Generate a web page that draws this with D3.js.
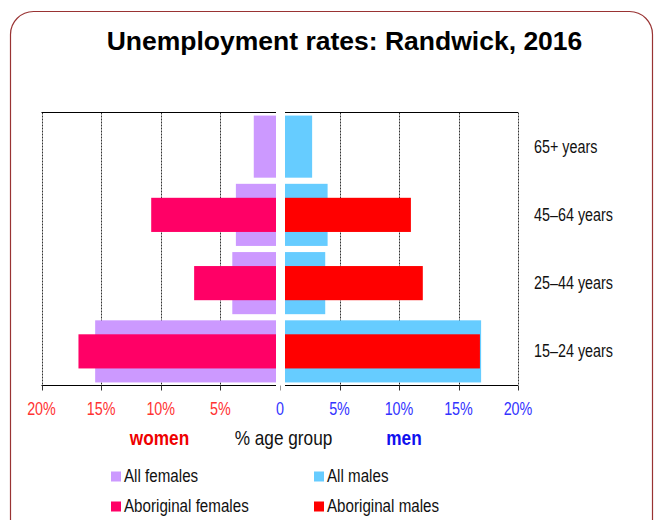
<!DOCTYPE html>
<html>
<head>
<meta charset="utf-8">
<script src="https://cdn.jsdelivr.net/npm/d3@7"></script>
<style>
  body { margin: 0; background: #fff; }
  text { font-family: "Liberation Sans", Arial, sans-serif; }
  .title { font-weight: bold; }
</style>
</head>
<body>
<svg id="chart" width="660" height="520"></svg>
<script>
// ---- data ----
var ageGroups = ["65+ years", "45\u201364 years", "25\u201344 years", "15\u201324 years"];
var allFemales = [2.2, 3.7, 4.0, 15.5];
var aboFemales = [null, 10.8, 7.2, 16.9];
var allMales = [2.7, 4.0, 3.8, 16.9];
var aboMales = [null, 11.0, 12.0, 16.8];
var tickVals = [0, 5, 10, 15, 20];
var legendItems = [
  {label: "All females", color: "#cc99ff"},
  {label: "All males", color: "#66ccff"},
  {label: "Aboriginal females", color: "#ff0066"},
  {label: "Aboriginal males", color: "#ff0000"}
];

var svg = d3.select("#chart");
var narrow = 0.82; // the original text is a narrow face

// narrow text, squeezed horizontally
function ntext(x, y, size) {
  return svg.append("text")
    .attr("transform", "translate(" + x + "," + y + ") scale(" + narrow + ",1)")
    .style("font-size", size + "px");
}

// frame
svg.append("rect")
  .attr("x", 10.5).attr("y", 11.5)
  .attr("width", 642).attr("height", 560)
  .attr("rx", 23)
  .attr("fill", "none")
  .attr("stroke", "#993333")
  .attr("stroke-width", 1.2);

svg.append("text")
  .attr("class", "title")
  .attr("x", 344.5).attr("y", 50)
  .attr("text-anchor", "middle")
  .style("font-size", "26.5px")
  .text("Unemployment rates: Randwick, 2016");

// scales
var xL = d3.scaleLinear().domain([0, 20]).range([280, 41.5]);
var xR = d3.scaleLinear().domain([0, 20]).range([280, 518]);
var gapL = 4, gapR = 5;
var plotTop = 112.5, plotBottom = 385.5;

var y = d3.scaleBand()
  .domain(ageGroups)
  .range([plotTop, plotBottom])
  .paddingInner(0.09)
  .paddingOuter(0.045);

var innerH = y.bandwidth() * 0.55;

// gridlines
var grid = svg.append("g");
tickVals.filter(function(d) { return d > 0; }).forEach(function(v) {
  [xL(v), xR(v)].forEach(function(px) {
    grid.append("line")
      .attr("x1", Math.round(px) + 0.5).attr("x2", Math.round(px) + 0.5)
      .attr("y1", plotTop).attr("y2", plotBottom)
      .attr("stroke", "#333")
      .attr("stroke-dasharray", "2,1");
  });
});

// top/bottom lines
[plotTop, plotBottom].forEach(function(yy) {
  svg.append("line")
    .attr("x1", xL(20)).attr("x2", xL(0) - gapL)
    .attr("y1", yy).attr("y2", yy)
    .attr("stroke", "#000");
  svg.append("line")
    .attr("x1", xR(0) + gapR).attr("x2", xR(20))
    .attr("y1", yy).attr("y2", yy)
    .attr("stroke", "#000");
});

// ticks
tickVals.forEach(function(v) {
  var xs = v == 0 ? [xL(0)] : [xL(v), xR(v)];
  xs.forEach(function(px) {
    svg.append("line")
      .attr("x1", Math.round(px) + 0.5).attr("x2", Math.round(px) + 0.5)
      .attr("y1", plotBottom).attr("y2", plotBottom + 5)
      .attr("stroke", v == 0 ? "#999" : "#333");
  });
});

// bars
var bars = svg.append("g");
ageGroups.forEach(function(g, i) {
  bars.append("rect")
    .attr("x", xL(allFemales[i])).attr("y", y(g))
    .attr("width", xL(0) - gapL - xL(allFemales[i]))
    .attr("height", y.bandwidth())
    .attr("fill", "#cc99ff");
  bars.append("rect")
    .attr("x", xR(0) + gapR).attr("y", y(g))
    .attr("width", xR(allMales[i]) - xR(0) - gapR)
    .attr("height", y.bandwidth())
    .attr("fill", "#66ccff");
  if (aboFemales[i] != null) {
    bars.append("rect")
      .attr("x", xL(aboFemales[i])).attr("y", y(g) + (y.bandwidth() - innerH) / 2)
      .attr("width", xL(0) - gapL - xL(aboFemales[i]))
      .attr("height", innerH)
      .attr("fill", "#ff0066");
  }
  if (aboMales[i] != null) {
    bars.append("rect")
      .attr("x", xR(0) + gapR).attr("y", y(g) + (y.bandwidth() - innerH) / 2)
      .attr("width", xR(aboMales[i]) - xR(0) - gapR)
      .attr("height", innerH)
      .attr("fill", "#ff0000");
  }
});

// age labels
ageGroups.forEach(function(g) {
  ntext(534, y(g) + y.bandwidth() / 2 + 6, 17.5)
    .attr("fill", "#111")
    .text(g);
});

// tick labels
tickVals.slice(1).forEach(function(v) {
  ntext(xL(v), 415, 17.5)
    .attr("text-anchor", "middle")
    .attr("fill", "#ff3333")
    .text(v + "%");
});
tickVals.forEach(function(v) {
  ntext(xR(v), 415, 17.5)
    .attr("text-anchor", "middle")
    .attr("fill", "#3333ff")
    .text(v == 0 ? "0" : v + "%");
});

ntext(159.5, 444.5, 21)
  .attr("text-anchor", "middle")
  .style("font-weight", "bold")
  .attr("fill", "#ee0000")
  .text("women");
ntext(283.5, 444.5, 21)
  .attr("text-anchor", "middle")
  .attr("fill", "#111")
  .text("% age group");
ntext(404, 444.5, 21)
  .attr("text-anchor", "middle")
  .style("font-weight", "bold")
  .attr("fill", "#1111ee")
  .text("men");

// legend
legendItems.forEach(function(d, i) {
  var lx = i % 2 == 0 ? 111 : 314;
  var ly = 471.5 + Math.floor(i / 2) * 30;
  svg.append("rect")
    .attr("x", lx).attr("y", ly)
    .attr("width", 10).attr("height", 10)
    .attr("fill", d.color);
  ntext(lx + 13, ly + 10.2, 18.5)
    .attr("fill", "#111")
    .text(d.label);
});
</script>
</body>
</html>
